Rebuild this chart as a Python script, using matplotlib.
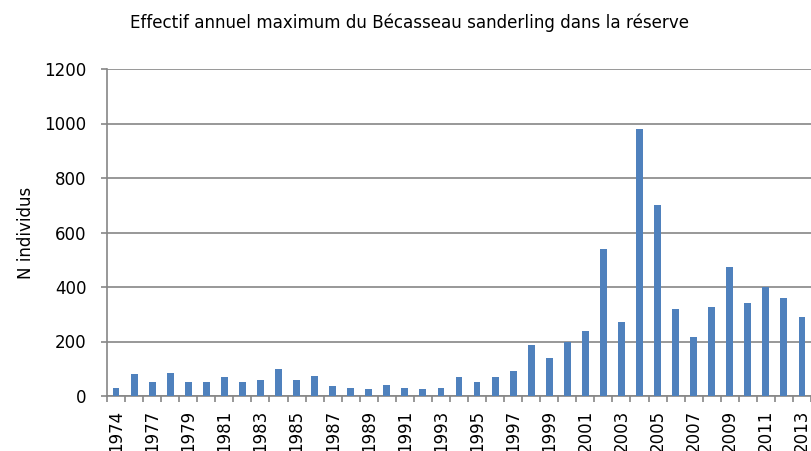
import matplotlib
matplotlib.use("Agg")
import matplotlib.pyplot as plt
import numpy as np

# années (1975 absente de la série)
annees = ['1974', '1976'] + [str(a) for a in range(1977, 2014)]
effectifs = [30, 80, 50, 83, 50, 50, 70, 50, 57, 100,
             60, 73, 36, 30, 25, 40, 31, 26, 30, 68,
             50, 70, 90, 186, 140, 200, 240, 540, 270, 980,
             700, 320, 215, 325, 472, 340, 400, 360, 290]
yticks = [0, 200, 400, 600, 800, 1000, 1200]

gris = '#868686'
bleu = '#4F81BD'

plt.rcParams['font.family'] = ['DejaVu Sans']
fig = plt.figure(figsize=(8.11, 4.51), dpi=100)
ax = fig.add_axes([107 / 811, 55 / 451, 704 / 811, 327 / 451])

x = np.arange(len(annees))
ax.bar(x, effectifs, width=0.38, color=bleu, zorder=3)

ax.set_xlim(-0.5, len(annees) - 0.5)
ax.set_ylim(0, 1200)
ax.set_yticks(yticks)
ax.yaxis.grid(True, color=gris, linewidth=1.2, zorder=0)
ax.tick_params(axis='y', length=4.3, width=1.2, color=gris, pad=10.5, labelsize=12)

# étiquettes une année sur deux, graduations entre les catégories
ax.set_xticks(x[::2])
ax.set_xticklabels(annees[::2], rotation=90, fontsize=12)
ax.tick_params(axis='x', which='major', length=0, pad=10)
ax.set_xticks(np.arange(len(annees) + 1) - 0.5, minor=True)
ax.tick_params(axis='x', which='minor', length=4.3, width=1.2, color=gris)

for s in ['top', 'right']:
    ax.spines[s].set_visible(False)
for s in ['left', 'bottom']:
    ax.spines[s].set_color(gris)
    ax.spines[s].set_linewidth(1.2)

ax.set_ylabel('N individus', fontsize=12)
ax.yaxis.set_label_coords(-72 / 704, 0.5)

fig.text(409 / 811, 1 - 23 / 451,
         'Effectif annuel maximum du Bécasseau sanderling dans la réserve',
         ha='center', va='center', fontsize=12.1)

fig.savefig('out.png', dpi=100)
